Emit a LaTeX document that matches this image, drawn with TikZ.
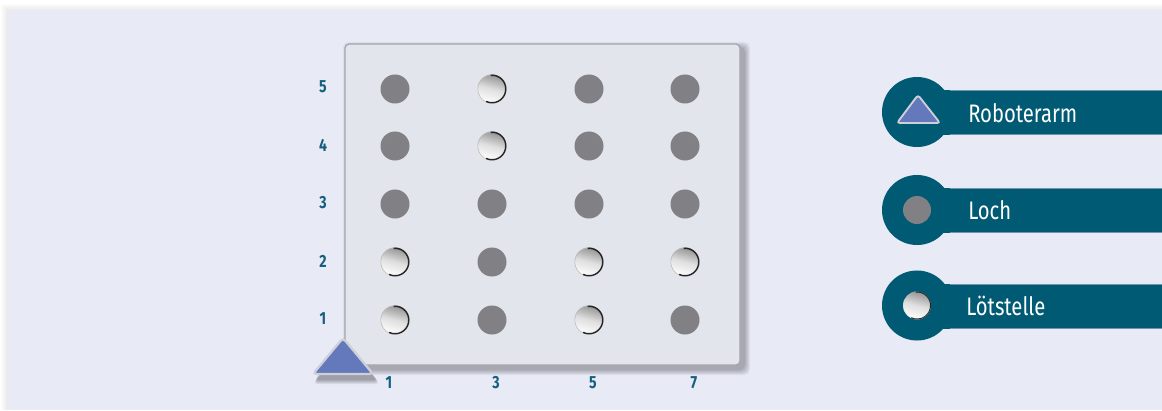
\documentclass[tikz,border=0pt]{standalone}
\usepackage{fontspec}
\newfontfamily\labelfont[FakeStretch=0.8]{Fira Sans}
\usetikzlibrary{positioning}

\definecolor{panelbg}{RGB}{232,234,246}
\definecolor{boardbg}{RGB}{226,229,235}
\definecolor{boardline}{RGB}{165,166,170}
\definecolor{holegray}{RGB}{128,128,133}
\definecolor{legteal}{RGB}{0,90,115}
\definecolor{legedge}{RGB}{110,150,170}
\definecolor{armblue}{RGB}{100,120,188}
\definecolor{armline}{RGB}{205,208,215}
\definecolor{axisteal}{RGB}{20,95,125}

\begin{document}
\begin{tikzpicture}[x=0.025cm, y=0.025cm,
    board/.style={draw=boardline, line width=0.9pt, fill=boardbg, rounded corners=3pt,
                  minimum width=9.875cm, minimum height=8.025cm, inner sep=0pt},
    hole/.style={circle, fill=holegray, minimum size=0.725cm, inner sep=0pt},
    solder/.style={circle, minimum size=0.725cm, inner sep=0pt,
                   top color=gray!85, bottom color=white, middle color=gray!25,
                   shading angle=-15,
                   path picture={
                     \draw[black!85, line width=2.2pt]
                       ([shift={(95:0.365cm)}]path picture bounding box.center)
                       arc[start angle=95, end angle=-115, radius=0.365cm];
                     \draw[gray!55, line width=1pt]
                       ([shift={(-115:0.365cm)}]path picture bounding box.center)
                       arc[start angle=-115, end angle=-265, radius=0.365cm];
                   }},
    axis/.style={font=\labelfont\bfseries\fontsize{12.5}{14}\selectfont, text=axisteal, inner sep=0pt},
    legcirc/.style={circle, fill=legteal, minimum size=1.75cm, inner sep=0pt},
    legtext/.style={font=\labelfont\fontsize{18}{20}\selectfont, text=white, anchor=west, inner sep=0pt},
    arm/.style={fill=armblue, draw=armline, line width=1.6pt, rounded corners=2.5pt}
  ]
  % Page and panel
  \fill[white] (0,0) rectangle (1162,410);
  \useasboundingbox (0,0) rectangle (1162,410);
  \foreach \i in {1,...,7}
    \fill[black, opacity=0.012] (8-\i,0) rectangle (1162,399+\i);
  \fill[panelbg] (8,0) rectangle (1162,399);

  % Board with shadow
  \foreach \i in {1,...,6}
    \fill[black, opacity=0.05, rounded corners=4pt] (349-\i,41-\i) rectangle (744+\i,362+\i);
  \node[board] (board) at (542.5,205.5) {};

  % Holes and solder points (columns 1,3,5,7; rows 1..5)
  \node[hole]   (h15) at (395,321) {};
  \node[solder] (h35) at (492,321) {};
  \node[hole]   (h55) at (589,321) {};
  \node[hole]   (h75) at (685,321) {};

  \node[hole]   (h14) at (395,264) {};
  \node[solder] (h34) at (492,264) {};
  \node[hole]   (h54) at (589,264) {};
  \node[hole]   (h74) at (685,264) {};

  \node[hole]   (h13) at (395,206) {};
  \node[hole]   (h33) at (492,206) {};
  \node[hole]   (h53) at (589,206) {};
  \node[hole]   (h73) at (685,206) {};

  \node[solder] (h12) at (395,148) {};
  \node[hole]   (h32) at (492,148) {};
  \node[solder] (h52) at (589,148) {};
  \node[solder] (h72) at (685,148) {};

  \node[solder] (h11) at (395,90) {};
  \node[hole]   (h31) at (492,90) {};
  \node[solder] (h51) at (589,90) {};
  \node[hole]   (h71) at (685,90) {};

  % Axis labels
  \node[axis] (y5) at (323,323) {5};
  \node[axis] (y4) at (323,265) {4};
  \node[axis] (y3) at (323,207) {3};
  \node[axis] (y2) at (323,149) {2};
  \node[axis] (y1) at (323,91)  {1};
  \node[axis] (x1) at (389,27) {1};
  \node[axis] (x3) at (496,27) {3};
  \node[axis] (x5) at (593,27) {5};
  \node[axis] (x7) at (694,27) {7};

  % Robot arm at the origin
  \foreach \i in {1,...,5}
    \fill[black, opacity=0.07, rounded corners=3pt] (315-\i*0.4,31-\i) -- (345,66) -- (377+\i*0.6,31-\i) -- cycle;
  \draw[arm] (313,36) -- (343,72) -- (373,36) -- cycle;

  % Legend
  \fill[legteal] (917,275.5) rectangle (1162,320);
  \draw[legedge, line width=0.5pt] (950,320) -- (1162,320) (950,275.5) -- (1162,275.5);
  \node[legcirc] (leg1) at (917,298) {};
  \draw[arm, line width=1.3pt, rounded corners=2pt] (897,287) -- (918,315) -- (940,287) -- cycle;
  \node[legtext] (arm) at (968,297) {Roboterarm};

  \fill[legteal] (917,177.5) rectangle (1162,222);
  \draw[legedge, line width=0.5pt] (950,222) -- (1162,222) (950,177.5) -- (1162,177.5);
  \node[legcirc] (leg2) at (917,200) {};
  \node[hole, minimum size=0.7cm] (leghole) at (917,200) {};
  \node[legtext] (loch) at (968,200) {Loch};

  \fill[legteal] (917,81.5) rectangle (1162,126);
  \draw[legedge, line width=0.5pt] (950,126) -- (1162,126) (950,81.5) -- (1162,81.5);
  \node[legcirc] (leg3) at (917,104.5) {};
  \node[solder, minimum size=0.7cm] (legsolder) at (917,104.5) {};
  \node[legtext] (loet) at (966,104) {Lötstelle};
\end{tikzpicture}
\end{document}
